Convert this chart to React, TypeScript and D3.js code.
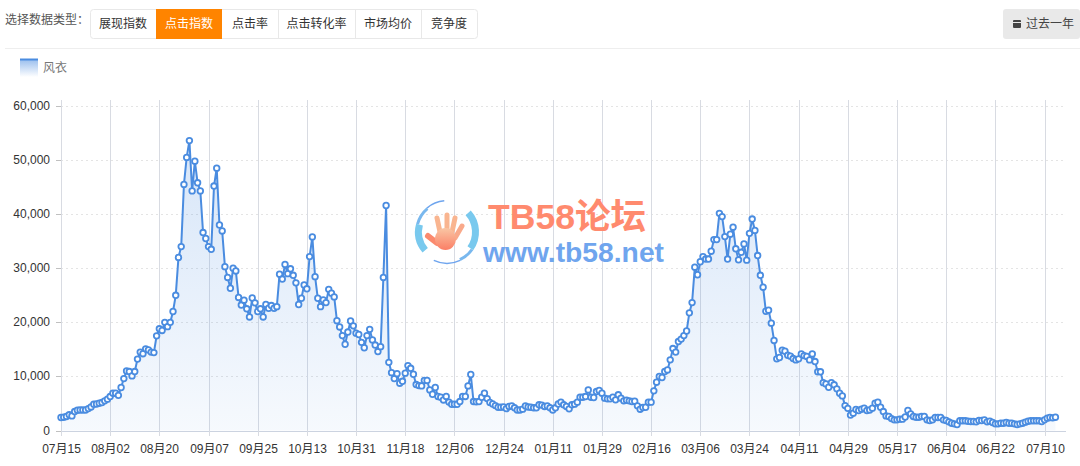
import React from 'react';
import * as d3 from 'd3';

const tabs = ['展现指数', '点击指数', '点击率', '点击转化率', '市场均价', '竞争度'];
const tabEdges = [90, 156, 222, 278, 355, 421, 477];
const activeTab = 1;
const seriesName = '风衣';

const yTicks = [0, 10000, 20000, 30000, 40000, 50000, 60000];
const xLabels = [
  '07月15', '08月02', '08月20', '09月07', '09月25', '10月13', '10月31',
  '11月18', '12月06', '12月24', '01月11', '01月29', '02月16', '03月06',
  '03月24', '04月11', '04月29', '05月17', '06月04', '06月22', '07月10',
];
const daysPerTick = 18;

// daily values, one row per tick interval
const clicks = [
  2400, 2460, 2600, 2900, 2700, 3500, 3750, 3800, 3800, 3800, 4050, 4350, 4850, 4900, 5050, 5170, 5480, 5800,
  6280, 6900, 6900, 6500, 7950, 9600, 11000, 10900, 10100, 10900, 13200, 14500, 14200, 15100, 14900, 14500, 14400, 17500,
  18800, 18500, 20000, 19200, 20000, 22000, 25000, 32000, 34000, 45500, 50500, 53600, 44300, 49800, 45800, 44300, 36600, 35500,
  34000, 33500, 45200, 48500, 38000, 36900, 30300, 28300, 26300, 30000, 29500, 24600, 23200, 24100, 22500, 21000, 24500, 23600,
  22000, 22500, 21000, 23300, 22600, 23100, 22600, 22900, 28900, 28000, 30700, 29000, 29900, 28700, 27300, 23300, 24450, 26900,
  26200, 32150, 35800, 28450, 24450, 22900, 24150, 23650, 26100, 25400, 24700, 20300, 19150, 17550, 15950, 18200, 20250, 19350,
  18000, 17750, 16300, 15300, 17550, 18700, 16750, 15800, 14600, 15500, 28300, 41600, 12600, 10700, 9600, 10500, 8750, 9100,
  10600, 12000, 11500, 10400, 8500, 8300, 8250, 9250, 9250, 7500, 6700, 7950, 6300, 6150, 5650, 6300, 5250, 4850,
  4850, 4850, 5350, 6300, 6300, 8250, 10350, 5350, 5300, 5350, 6150, 6900, 5900, 5200, 4900, 4600, 4300, 4300,
  4350, 4050, 4450, 4550, 4200, 3800, 3800, 3950, 4550, 4350, 4300, 4200, 4200, 4750, 4700, 4450, 4550, 4200,
  3800, 4200, 4900, 5250, 4750, 4450, 4000, 4750, 4870, 5240, 6160, 6160, 6280, 7500, 6160, 6100, 7200, 7400,
  6900, 5980, 5850, 5850, 6160, 5670, 6600, 5980, 5480, 5600, 5480, 5360, 5420, 4560, 3940, 4250, 4300, 5240,
  5240, 7330, 8930, 9980, 9800, 10900, 11200, 13060, 15150, 14500, 16450, 16900, 17550, 18400, 21750, 23650, 30200, 28800,
  31200, 32150, 31700, 31700, 33150, 35300, 35300, 40150, 39550, 35850, 31700, 36300, 37600, 33600, 31550, 32950, 34500, 31500,
  36450, 39100, 37000, 32350, 28700, 26500, 22050, 22250, 19850, 16650, 13250, 13500, 14850, 14650, 13900, 13750, 13300, 13050,
  13250, 14150, 13850, 13700, 13050, 14150, 12750, 10850, 10850, 8850, 8600, 8000, 8850, 8450, 7700, 6900, 6400, 4600,
  4100, 2850, 3200, 3900, 3700, 3940, 4130, 3700, 3800, 4130, 5050, 5240, 4300, 3500, 2700, 2600, 2200, 1970,
  1970, 2100, 2100, 2500, 3700, 3080, 2600, 2460, 2460, 2600, 2600, 1970, 1850, 1970, 2400, 2400, 2400, 1970,
  1850, 1600, 1350, 1230, 1100, 1790, 1790, 1790, 1720, 1660, 1660, 1600, 1850, 1850, 1970, 1600, 1720, 1480,
  1230, 1230, 1350, 1350, 1480, 1350, 1350, 1230, 1110, 1230, 1350, 1540, 1720, 1790, 1790, 1790, 1790, 1660,
  1970, 2280, 2400, 2340, 2460,
];

const FONT = '"Liberation Sans", "Noto Sans CJK SC", sans-serif';
const LINE = '#4a8ce0';

const App: React.FC = () => {
  const width = 1080;
  const height = 466;

  const xScale = d3.scaleLinear()
    .domain([0, (xLabels.length - 1) * daysPerTick])
    .range([61, 1044.5]);
  const yScale = d3.scaleLinear().domain([0, 60000]).range([430.5, 106]);

  const lineGen = d3.line<number>().x((_, i) => xScale(i)).y(d => yScale(d));
  const areaGen = d3.area<number>().x((_, i) => xScale(i)).y0(yScale(0)).y1(d => yScale(d));
  const fmt = d3.format(',');

  // watermark ring pieces, angles in degrees clockwise from 12 o'clock
  const ring = (r0: number, r1: number, a0: number, a1: number) =>
    d3.arc()({
      innerRadius: r0,
      outerRadius: r1,
      startAngle: (a0 * Math.PI) / 180,
      endAngle: (a1 * Math.PI) / 180,
    }) || '';

  return (
    <svg
      width={width}
      height={height}
      style={{ position: 'absolute', left: 0, top: 0, display: 'block', fontFamily: FONT }}
    >
      <defs>
        <linearGradient id="areaFill" x1="0" y1="0" x2="0" y2="1">
          <stop offset="0%" stopColor="#4a8ce0" stopOpacity={0.22} />
          <stop offset="100%" stopColor="#4a8ce0" stopOpacity={0.05} />
        </linearGradient>
        <linearGradient id="legendFill" x1="0" y1="0" x2="0" y2="1">
          <stop offset="0%" stopColor="#9dc0ee" />
          <stop offset="100%" stopColor="#ffffff" />
        </linearGradient>
        <linearGradient id="handFill" x1="0" y1="0" x2="0" y2="1">
          <stop offset="0%" stopColor="#f9c6a4" />
          <stop offset="100%" stopColor="#fb7f66" />
        </linearGradient>
      </defs>

      {/* top bar */}
      <text x={5} y={24} fontSize={12} fill="#555">选择数据类型：</text>
      <rect x={90.5} y={9.5} width={387} height={29} rx={3} fill="#fff" stroke="#e8e8e8" />
      {tabs.map((t, i) => (
        <g key={t}>
          {i === activeTab && (
            <rect x={tabEdges[i]} y={9} width={tabEdges[i + 1] - tabEdges[i]} height={30} fill="#ff8400" />
          )}
          {i > 0 && i !== activeTab && i !== activeTab + 1 && (
            <line x1={tabEdges[i] + 0.5} x2={tabEdges[i] + 0.5} y1={9} y2={38} stroke="#e8e8e8" />
          )}
          <text
            x={(tabEdges[i] + tabEdges[i + 1]) / 2}
            y={28}
            fontSize={12}
            textAnchor="middle"
            fill={i === activeTab ? '#fff' : '#333'}
          >
            {t}
          </text>
        </g>
      ))}
      <rect x={1003} y={9} width={77} height={30} rx={3} fill="#e9e9e9" />
      <rect x={1013} y={20} width={8} height={8} rx={1} fill="#444" />
      <line x1={1013} x2={1021} y1={22.5} y2={22.5} stroke="#e9e9e9" />
      <text x={1026} y={28} fontSize={12} fill="#444">过去一年</text>
      <line x1={5} x2={1080} y1={48.5} y2={48.5} stroke="#eeeeee" />

      {/* legend */}
      <rect x={20} y={60} width={18} height={17} fill="url(#legendFill)" />
      <line x1={20} x2={38} y1={59.5} y2={59.5} stroke={LINE} strokeWidth={2} />
      <text x={43} y={72} fontSize={12} fill="#777">{seriesName}</text>

      {/* grid */}
      {yTicks.map(t => (
        <g key={t}>
          <line
            x1={61}
            x2={1066}
            y1={Math.round(yScale(t)) + 0.5}
            y2={Math.round(yScale(t)) + 0.5}
            stroke={t === 0 ? '#ccd3e0' : '#e4e4e4'}
            strokeDasharray={t === 0 ? undefined : '2,3'}
          />
          <line
            x1={56}
            x2={61}
            y1={Math.round(yScale(t)) + 0.5}
            y2={Math.round(yScale(t)) + 0.5}
            stroke="#c0c0c0"
          />
          <text x={50} y={yScale(t) + 4} fontSize={12} textAnchor="end" fill="#333">{fmt(t)}</text>
        </g>
      ))}
      {xLabels.map((l, i) => {
        const tx = Math.round(xScale(i * daysPerTick)) + 0.5;
        return (
          <g key={l}>
            <line x1={tx} x2={tx} y1={100} y2={436} stroke="#d8dbe2" />
            <text x={tx} y={453} fontSize={12} textAnchor="middle" fill="#333">{l}</text>
          </g>
        );
      })}

      {/* series */}
      <path d={areaGen(clicks) || ''} fill="url(#areaFill)" />
      <path d={lineGen(clicks) || ''} fill="none" stroke={LINE} strokeWidth={2} />
      {clicks.map((v, i) => (
        <circle key={i} cx={xScale(i)} cy={yScale(v)} r={2.8} fill="#fff" stroke={LINE} strokeWidth={1.8} />
      ))}

      {/* watermark */}
      <g transform="translate(447,232)">
        <path d={ring(25, 32, 230, 285)} fill="#79c9ee" />
        <path d={ring(29, 32, 285, 320)} fill="#79b8ee" />
        <path d={ring(30.5, 32, 320, 355)} fill="#6fa5ee" />
        <path d={ring(25, 32, 48, 125)} fill="#79c9ee" />
        <path d={ring(29, 32, 125, 155)} fill="#79b8ee" />
        <path d={ring(30.5, 32, 155, 205)} fill="#6fa5ee" />
      </g>
      <g strokeLinecap="round" fill="none">
        <line x1={437} y1={243} x2={428} y2={236} stroke="#fb8a6e" strokeWidth={6} />
        <line x1={440} y1={232} x2={437} y2={218} stroke="#f9b590" strokeWidth={5} />
        <line x1={447} y1={230} x2={447} y2={215} stroke="#f9b590" strokeWidth={5} />
        <line x1={452} y1={232} x2={455} y2={218} stroke="#f9b590" strokeWidth={5} />
        <line x1={455} y1={238} x2={462} y2={226} stroke="#f9a98a" strokeWidth={5} />
      </g>
      <ellipse cx={445.5} cy={239} rx={10.5} ry={11} fill="url(#handFill)" />
      <text x={488} y={229} fontSize={35} fontWeight="bold" fill="#ff8a6e" textLength={158} lengthAdjust="spacingAndGlyphs">TB58论坛</text>
      <text x={483} y={262} fontSize={27} fontWeight="bold" fill="#6fa5ee" textLength={181} lengthAdjust="spacingAndGlyphs">www.tb58.net</text>
    </svg>
  );
};

export default App;
